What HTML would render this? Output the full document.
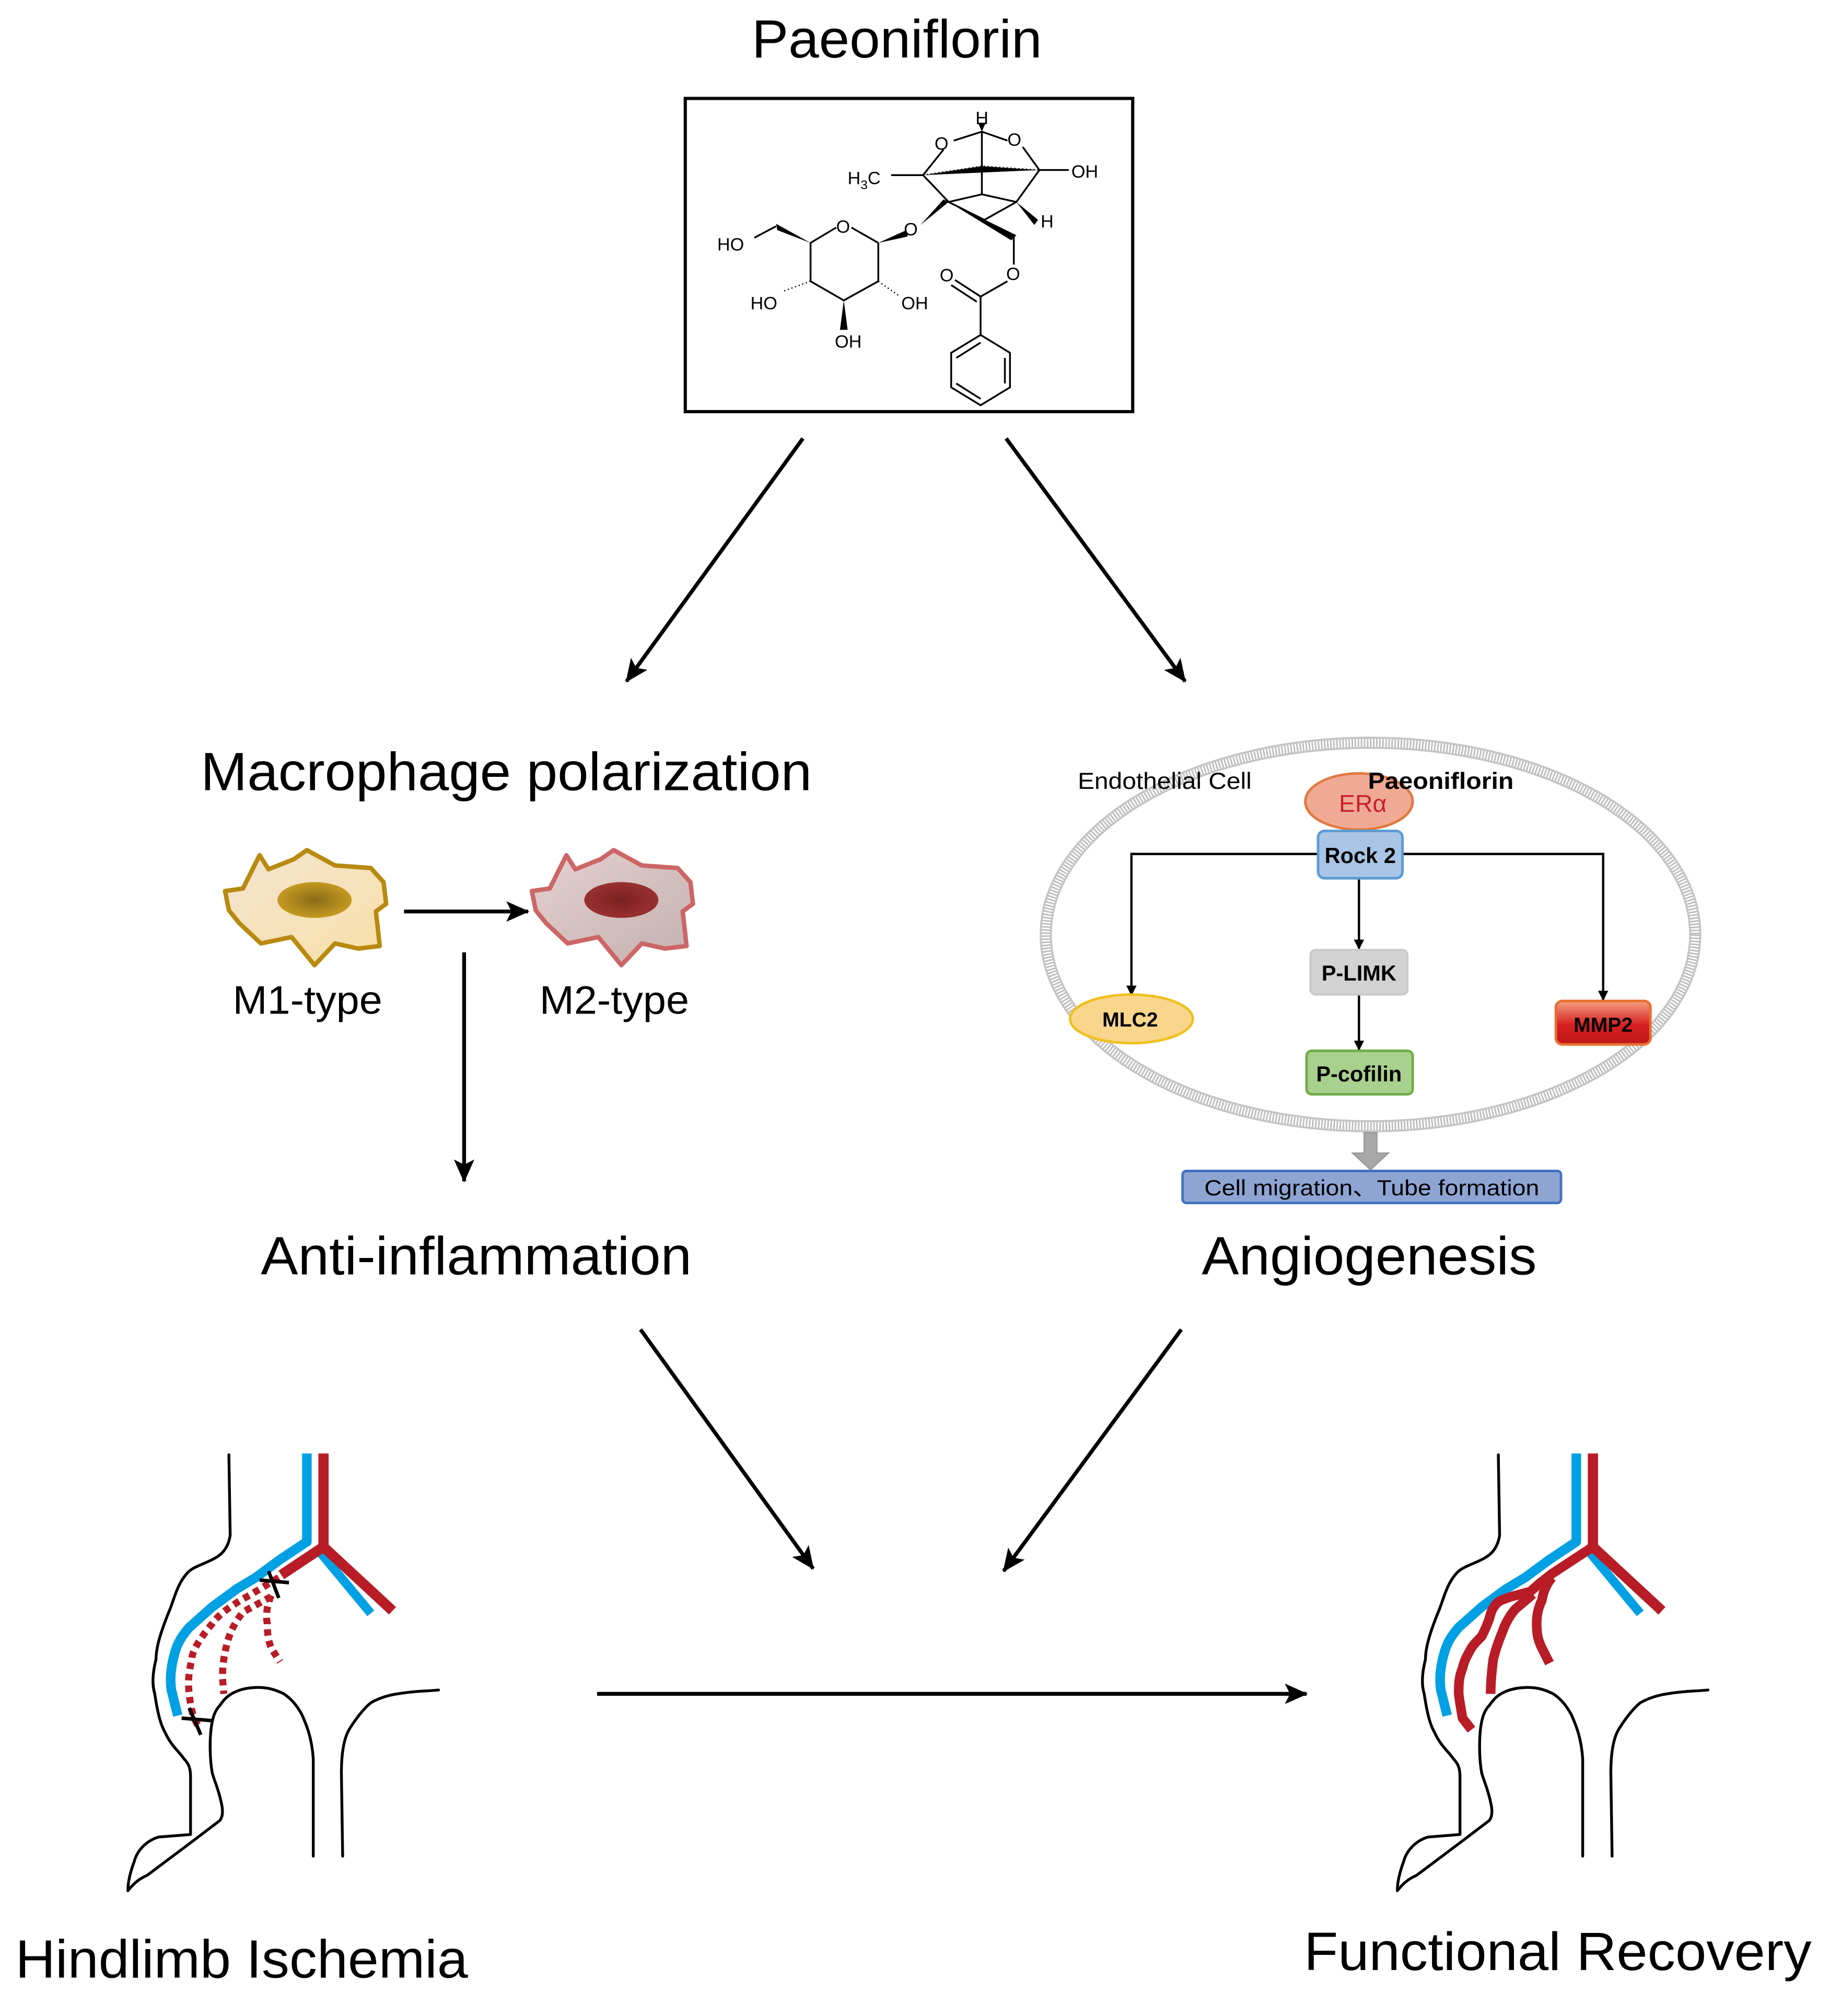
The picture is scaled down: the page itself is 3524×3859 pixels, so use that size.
<!DOCTYPE html>
<html><head><meta charset="utf-8"><style>
html,body{margin:0;padding:0;background:#fff}
svg{display:block}
text{font-family:"Liberation Sans",Arial,sans-serif}
</style></head><body>
<svg width="3524" height="3859" viewBox="0 0 1440 1577" xmlns="http://www.w3.org/2000/svg">
<defs>
<marker id="ah" markerWidth="10" markerHeight="10" refX="9" refY="5" orient="auto" markerUnits="userSpaceOnUse"><path d="M0,0 L10,5 L0,10 L3,5 z" fill="#000"/></marker>
<marker id="ah2" markerWidth="18" markerHeight="18" refX="17" refY="9" orient="auto" markerUnits="userSpaceOnUse"><path d="M0,1 L18,9 L0,17 L4,9 z" fill="#000"/></marker>
<marker id="as" markerWidth="8" markerHeight="8" refX="7" refY="4" orient="auto" markerUnits="userSpaceOnUse"><path d="M0,0 L8,4 L0,8 z" fill="#000"/></marker>
<radialGradient id="n1"><stop offset="0" stop-color="#8a6a1a"/><stop offset="1" stop-color="#c49a20"/></radialGradient>
<radialGradient id="n2"><stop offset="0" stop-color="#7a2020"/><stop offset="1" stop-color="#9a3030"/></radialGradient>
<linearGradient id="c1" x1="0" y1="0" x2="1" y2="1"><stop offset="0" stop-color="#f4e4d0"/><stop offset="1" stop-color="#f8e0a8"/></linearGradient>
<linearGradient id="c2" x1="0" y1="0" x2="1" y2="1"><stop offset="0" stop-color="#e6d0d0"/><stop offset="1" stop-color="#c4b0b0"/></linearGradient>
<linearGradient id="mm" x1="0" y1="0" x2="0" y2="1"><stop offset="0" stop-color="#f4a080"/><stop offset="0.55" stop-color="#d82020"/><stop offset="1" stop-color="#c01818"/></linearGradient>
</defs>

<text x="588" y="45" font-size="42" textLength="227" lengthAdjust="spacingAndGlyphs">Paeoniflorin</text>
<rect x="536" y="77" width="350" height="245" fill="none" stroke="#000" stroke-width="2.5"/>

<!-- molecule -->
<g stroke="#000" stroke-width="1.4" fill="none">
<path d="M687,190 L666,178 M654,178 L634,190 L634,220 L660,235 L687,220 L687,190"/>
<path d="M607,177 L590,186"/>
<path d="M722,137 L738,117 M746,110 L768,103 L788,110 M800,115 L813,133 L836,133 M697,137 L722,137"/>
<path d="M722,137 L742,158 L768,152 L795,158 L813,133 M742,158 L770,172 L795,158 M768,103 L768,152"/>
<path d="M793,185 L793,207 M788,220 L767,232 L767,262 M767,232 L747,219 M764,236 L744,223"/>
<path d="M767,262 L790,276 L790,303 L767,317 L744,303 L744,276 Z M786,280 L786,300 M748,280 L767,268 M748,300 L767,312"/>
</g>
<g fill="#000">
<polygon points="634,190 607,175 608,180"/>
<polygon points="687,190 709,180 710,185"/>
<polygon points="720,176 742,158 738,156"/>
<polygon points="660,235 657,258 663,258"/>
<polygon points="768,103 765,96 771,96"/>
<polygon points="742,158 795,184 791,188"/>
<polygon points="795,158 812,172 809,176"/>
</g>
<g stroke="#000" stroke-width="1" stroke-dasharray="1 2">
<path d="M722,137 L768,130 L813,133"/>
<path d="M634,220 L612,228 M687,220 L704,232"/>
</g>
<g font-size="14" fill="#000">
<text x="763" y="97">H</text><text x="731" y="117">O</text><text x="788" y="114">O</text>
<text x="663" y="144">H<tspan font-size="10" dy="4">3</tspan><tspan dy="-4">C</tspan></text>
<text x="838" y="139">OH</text><text x="814" y="178">H</text>
<text x="654" y="182">O</text><text x="707" y="184">O</text>
<text x="561" y="196">HO</text><text x="735" y="220">O</text><text x="787" y="219">O</text>
<text x="587" y="242">HO</text><text x="705" y="242">OH</text><text x="653" y="272">OH</text>
</g>

<g stroke="#000" stroke-width="3">
<line x1="628" y1="343" x2="490" y2="533" marker-end="url(#ah2)"/>
<line x1="787" y1="343" x2="927" y2="533" marker-end="url(#ah2)"/>
<line x1="501" y1="1040" x2="636" y2="1227" marker-end="url(#ah2)"/>
<line x1="924" y1="1040" x2="785" y2="1229" marker-end="url(#ah2)"/>
<line x1="467" y1="1325" x2="1022" y2="1325" marker-end="url(#ah2)"/>
<line x1="316" y1="713" x2="413" y2="713" marker-end="url(#ah2)"/>
<line x1="363" y1="745" x2="363" y2="924" marker-end="url(#ah2)"/>
</g>

<text x="157" y="618" font-size="42" textLength="478" lengthAdjust="spacingAndGlyphs">Macrophage polarization</text>

<g>
<path d="M176,697 L190,695 L203,669 L210,680 L230,672 L240,665 L262,677 L290,679 L300,690 L302,707 L294,713 L297,740 L280,742 L262,738 L246,755 L228,733 L204,738 L187,722 L179,712 Z" fill="url(#c1)" stroke="#b88a10" stroke-width="3.5" stroke-linejoin="round"/>
<ellipse cx="246" cy="704" rx="29" ry="14" fill="url(#n1)"/>
</g>
<g transform="translate(240,0)">
<path d="M176,697 L190,695 L203,669 L210,680 L230,672 L240,665 L262,677 L290,679 L300,690 L302,707 L294,713 L297,740 L280,742 L262,738 L246,755 L228,733 L204,738 L187,722 L179,712 Z" fill="url(#c2)" stroke="#cc6666" stroke-width="3.5" stroke-linejoin="round"/>
<ellipse cx="246" cy="704" rx="29" ry="14" fill="url(#n2)"/>
</g>
<text x="182" y="793" font-size="31" textLength="117" lengthAdjust="spacingAndGlyphs">M1-type</text>
<text x="422" y="793" font-size="31" textLength="117" lengthAdjust="spacingAndGlyphs">M2-type</text>
<text x="204" y="997" font-size="42" textLength="337" lengthAdjust="spacingAndGlyphs">Anti-inflammation</text>

<ellipse cx="1072" cy="731" rx="254" ry="150" fill="none" stroke="#bdbdbd" stroke-width="9" stroke-dasharray="1.2 1.2"/>
<ellipse cx="1072" cy="731" rx="258" ry="154" fill="none" stroke="#c4c4c4" stroke-width="1.5"/>
<ellipse cx="1072" cy="731" rx="250" ry="146" fill="none" stroke="#c4c4c4" stroke-width="1.5"/>
<text x="843" y="617" font-size="18" textLength="136" lengthAdjust="spacingAndGlyphs">Endothelial Cell</text>
<ellipse cx="1063" cy="627" rx="42" ry="22" fill="#f0aa94" stroke="#e07a40" stroke-width="2"/>
<text x="1070" y="617" font-size="18" font-weight="bold" textLength="114" lengthAdjust="spacingAndGlyphs">Paeoniflorin</text>
<text x="1066" y="635" font-size="19" fill="#c8202a" text-anchor="middle">ERα</text>
<g stroke="#000" stroke-width="1.8" fill="none">
<path d="M1031,668 L885,668 L885,778" marker-end="url(#as)"/>
<path d="M1097,668 L1254,668 L1254,782" marker-end="url(#as)"/>
<line x1="1063" y1="687" x2="1063" y2="742" marker-end="url(#as)"/>
<line x1="1063" y1="778" x2="1063" y2="821" marker-end="url(#as)"/>
</g>
<rect x="1031" y="650" width="66" height="37" rx="5" fill="#a9c5e6" stroke="#5b9bd5" stroke-width="2"/>
<text x="1064" y="675" font-size="17" font-weight="bold" text-anchor="middle">Rock 2</text>
<rect x="1025" y="743" width="76" height="35" rx="4" fill="#d2d2d2" stroke="#c8c8c8" stroke-width="1.5"/>
<text x="1063" y="767" font-size="17" font-weight="bold" text-anchor="middle">P-LIMK</text>
<rect x="1022" y="822" width="83" height="34" rx="4" fill="#a9d18e" stroke="#70ad47" stroke-width="2"/>
<text x="1063" y="846" font-size="17" font-weight="bold" text-anchor="middle">P-cofilin</text>
<ellipse cx="885" cy="797" rx="48" ry="19" fill="#fad68c" stroke="#f0c020" stroke-width="2"/>
<text x="884" y="803" font-size="16" font-weight="bold" text-anchor="middle">MLC2</text>
<rect x="1217" y="783" width="74" height="34" rx="5" fill="url(#mm)" stroke="#e87030" stroke-width="2"/>
<text x="1254" y="807" font-size="16" font-weight="bold" text-anchor="middle">MMP2</text>
<path d="M1067,886 L1077,886 L1077,902 L1086,902 L1072,915 L1058,902 L1067,902 Z" fill="#a8a8a8" stroke="#999" stroke-width="1"/>
<rect x="925" y="916" width="296" height="25" rx="3" fill="#8ea5d4" stroke="#4472c4" stroke-width="2"/>
<text x="942" y="935" font-size="17" textLength="262" lengthAdjust="spacingAndGlyphs">Cell migration、Tube formation</text>
<text x="940" y="997" font-size="42" textLength="262" lengthAdjust="spacingAndGlyphs">Angiogenesis</text>

<g fill="none" stroke="#000" stroke-width="2.2" stroke-linejoin="round" stroke-linecap="round">
<path d="M179,1138 L180,1201 C178,1214 170,1218 166,1220 C158,1224 150,1226 146,1231 C138,1240 136,1252 132,1261 C126,1276 122,1288 122,1298 C119,1310 119,1318 121,1325 C123,1338 125,1348 129,1355 C134,1366 140,1370 144,1376 C148,1380 149,1384 149,1390 L149,1435 L124,1437 C114,1440 107,1448 105,1456 C102,1464 100,1472 100,1479 C104,1474 108,1470 115,1467 L151,1440 L172,1424 C175,1420 174,1414 173,1410 C171,1400 168,1394 166,1387 C164,1376 164,1362 165,1353 C166,1344 168,1338 172,1334 C176,1328 180,1325 185,1323 C190,1321 196,1320 202,1320 C210,1320 216,1322 222,1325 C228,1329 232,1334 236,1341 C240,1350 244,1360 245,1376 L245,1452"/>
<path d="M268,1452 L267,1387 C267,1372 269,1360 273,1353 C278,1345 284,1337 290,1332 C297,1328 304,1326 311,1325 C322,1323 332,1323 343,1322"/>
</g>
<g fill="none" stroke-linejoin="round">
<path d="M240,1137 L240,1206 L219,1220 L200,1234 L185,1243 L166,1257 L148,1273 C142,1280 139,1285 137,1292 C133,1305 133,1315 134,1322 L139,1342" stroke="#00a0e4" stroke-width="7.5"/>
<path d="M251,1215 L290,1262" stroke="#00a0e4" stroke-width="7"/>
<path d="M253,1137 L253,1210 M253,1210 L307,1260 M253,1210 L220,1232" stroke="#b81c26" stroke-width="8"/>
<path d="M218,1234 L195,1248 C180,1256 170,1264 166,1270 C156,1282 150,1292 150,1298 C147,1310 147,1318 148,1325 C149,1336 151,1344 155,1350" stroke="#b81c26" stroke-width="5.5" stroke-dasharray="5 4"/>
<path d="M212,1249 L190,1261 C183,1270 180,1277 178,1284 C175,1295 174,1303 174,1312 L175,1325" stroke="#b81c26" stroke-width="5.5" stroke-dasharray="5 4"/>
<path d="M212,1248 C208,1258 208,1265 209,1270 C209,1278 210,1284 212,1289 L219,1300" stroke="#b81c26" stroke-width="5.5" stroke-dasharray="5 4"/>
</g>
<g stroke="#000" stroke-width="2.8">
<line x1="203" y1="1236" x2="226" y2="1238"/><line x1="210" y1="1229" x2="218" y2="1250"/>
<line x1="142" y1="1344" x2="166" y2="1346"/><line x1="148" y1="1336" x2="157" y2="1357"/>
</g>

<g transform="translate(993,0)">
<g fill="none" stroke="#000" stroke-width="2.2" stroke-linejoin="round" stroke-linecap="round">
<path d="M179,1138 L180,1201 C178,1214 170,1218 166,1220 C158,1224 150,1226 146,1231 C138,1240 136,1252 132,1261 C126,1276 122,1288 122,1298 C119,1310 119,1318 121,1325 C123,1338 125,1348 129,1355 C134,1366 140,1370 144,1376 C148,1380 149,1384 149,1390 L149,1435 L124,1437 C114,1440 107,1448 105,1456 C102,1464 100,1472 100,1479 C104,1474 108,1470 115,1467 L151,1440 L172,1424 C175,1420 174,1414 173,1410 C171,1400 168,1394 166,1387 C164,1376 164,1362 165,1353 C166,1344 168,1338 172,1334 C176,1328 180,1325 185,1323 C190,1321 196,1320 202,1320 C210,1320 216,1322 222,1325 C228,1329 232,1334 236,1341 C240,1350 244,1360 245,1376 L245,1452"/>
<path d="M268,1452 L267,1387 C267,1372 269,1360 273,1353 C278,1345 284,1337 290,1332 C297,1328 304,1326 311,1325 C322,1323 332,1323 343,1322"/>
</g>
<g fill="none" stroke-linejoin="round" stroke-linecap="butt">
<path d="M240,1137 L240,1206 L219,1220 L200,1234 L185,1243 L166,1257 L148,1273 C142,1280 139,1285 137,1292 C133,1305 133,1315 134,1322 L139,1342" stroke="#00a0e4" stroke-width="7.5"/>
<path d="M251,1215 L290,1262" stroke="#00a0e4" stroke-width="7"/>
<path d="M253,1137 L253,1210 M253,1210 L307,1260" stroke="#b81c26" stroke-width="8"/>
<path d="M253,1210 L221,1231 L212,1238 L204,1245 L189,1249 C183,1251 180,1252 178,1254 C174,1258 173,1262 172,1266 C170,1272 168,1276 166,1280 C162,1284 160,1286 158,1289 C154,1296 152,1300 151,1305 C148,1312 148,1318 148,1325 C149,1333 150,1338 151,1344 L158,1353" stroke="#b81c26" stroke-width="7.5"/>
<path d="M206,1247 L192,1259 C187,1265 184,1271 182,1277 C179,1284 177,1290 175,1298 C174,1306 173,1315 173,1325" stroke="#b81c26" stroke-width="7.5"/>
<path d="M221,1234 C216,1240 214,1246 213,1252 C210,1258 209,1264 209,1270 C209,1278 210,1283 213,1289 L219,1301" stroke="#b81c26" stroke-width="7.5"/>
</g>
</g>

<text x="12" y="1547" font-size="42" textLength="354" lengthAdjust="spacingAndGlyphs">Hindlimb Ischemia</text>
<text x="1020" y="1541" font-size="42" textLength="397" lengthAdjust="spacingAndGlyphs">Functional Recovery</text>
</svg>
</body></html>
